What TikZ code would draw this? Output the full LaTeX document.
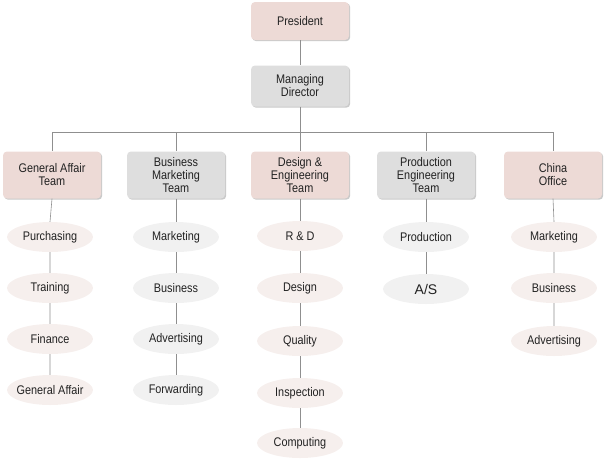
\documentclass[tikz,border=0pt]{standalone}
\usepackage{fontspec}
\setmainfont[FakeStretch=0.87]{Liberation Sans}
\newfontfamily\widefont{Liberation Sans}
\usetikzlibrary{shadows,shapes.geometric}
\definecolor{pinkbox}{HTML}{EDDAD6}
\definecolor{graybox}{HTML}{DEDEDE}
\definecolor{pinkov}{HTML}{F6EFED}
\definecolor{grayov}{HTML}{F1F1F1}
\definecolor{linec}{HTML}{8F8F8F}
\definecolor{textc}{HTML}{222222}
\newcommand{\ov}[1]{\makebox[0pt]{#1}}
\tikzset{
  box/.style={rectangle, rounded corners=4pt, minimum width=98pt, minimum height=40pt,
    inner sep=1pt, align=center, text=textc, font=\fontsize{12.5}{13}\selectfont,
    drop shadow={shadow xshift=1.2pt, shadow yshift=-1.2pt, fill=black!35, opacity=0.6}},
  pinkb/.style={box, fill=pinkbox},
  grayb/.style={box, fill=graybox},
  team/.style={minimum height=47pt},
  oval/.style={ellipse, minimum width=86pt, minimum height=30pt, inner sep=0pt,
    text=textc, font=\fontsize{12.5}{13}\selectfont},
  pinko/.style={oval, fill=pinkov},
  grayo/.style={oval, fill=grayov},
  conn/.style={draw=linec, line width=0.6pt}
}
\begin{document}
\begin{tikzpicture}[x=1pt,y=-1pt]
\useasboundingbox (0,0) rectangle (604,467);
% top
\node[pinkb, minimum height=38pt] (pres) at (300,21) {President};
\node[grayb, minimum height=41pt] (md) at (300,86) {Managing\\Director};
\coordinate (bus) at (300,132);
% teams
\node[pinkb, team] (ga) at (52,175) {General Affair\\Team};
\node[grayb, team] (bm) at (176,175) {Business\\Marketing\\Team};
\node[pinkb, team] (de) at (300,175) {Design \&\\Engineering\\Team};
\node[grayb, team] (pe) at (426,175) {Production\\Engineering\\Team};
\node[pinkb, team] (co) at (553,175) {China\\Office};
% column 1
\node[pinko] (a1) at (50,237) {\ov{Purchasing}};
\node[pinko] (a2) at (50,288) {\ov{Training}};
\node[pinko] (a3) at (50,339) {\ov{Finance}};
\node[pinko] (a4) at (50,390) {\ov{General Affair}};
% column 2
\node[grayo] (b1) at (176,237) {\ov{Marketing}};
\node[grayo] (b2) at (176,288) {\ov{Business}};
\node[grayo] (b3) at (176,339) {\ov{Advertising}};
\node[grayo] (b4) at (176,390) {\ov{Forwarding}};
% column 3
\node[pinko] (c1) at (300,236) {\ov{R \& D}};
\node[pinko] (c2) at (300,288) {\ov{Design}};
\node[pinko] (c3) at (300,341) {\ov{Quality}};
\node[pinko] (c4) at (300,393) {\ov{Inspection}};
\node[pinko] (c5) at (300,443) {\ov{Computing}};
% column 4
\node[grayo] (d1) at (426,237) {\ov{Production}};
\node[grayo, font=\widefont\fontsize{14}{15}\selectfont] (d2) at (426,289) {\ov{A/S}};
% column 5
\node[pinko] (e1) at (554,237) {\ov{Marketing}};
\node[pinko] (e2) at (554,288) {\ov{Business}};
\node[pinko] (e3) at (554,341) {\ov{Advertising}};
% connectors
\path[conn] (pres.south) -- (md.north);
\path[conn] (md.south) -- (bus);
\path[conn] (bus) -| (ga.north);
\path[conn] (bus) -| (bm.north);
\path[conn] (bus) -- (de.north);
\path[conn] (bus) -| (pe.north);
\path[conn] (bus) -| (co.north);
\path[conn] (ga.south) -- (a1.north) (a1.south) -- (a2.north) (a2.south) -- (a3.north) (a3.south) -- (a4.north);
\path[conn] (bm.south) -- (b1.north) (b1.south) -- (b2.north) (b2.south) -- (b3.north) (b3.south) -- (b4.north);
\path[conn] (de.south) -- (c1.north) (c1.south) -- (c2.north) (c2.south) -- (c3.north) (c3.south) -- (c4.north) (c4.south) -- (c5.north);
\path[conn] (pe.south) -- (d1.north) (d1.south) -- (d2.north);
\path[conn] (co.south) -- (e1.north) (e1.south) -- (e2.north) (e2.south) -- (e3.north);
\end{tikzpicture}
\end{document}
